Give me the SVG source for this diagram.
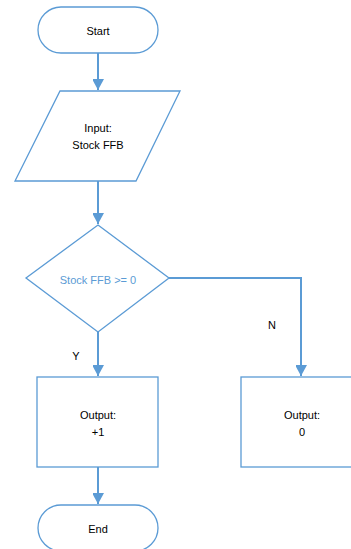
<svg xmlns="http://www.w3.org/2000/svg" width="351" height="549" viewBox="0 0 351 549">
  <style>
    .shape { fill: #ffffff; stroke: #5B9BD5; stroke-width: 1.3; }
    .conn { fill: none; stroke: #5B9BD5; stroke-width: 2; }
    .label { font-family: "Liberation Sans", Arial, sans-serif; font-size: 11px; fill: #000000; text-anchor: middle; dominant-baseline: central; }
    .blue { fill: #5B9BD5; }
  </style>
  <defs>
    <marker id="arrow" markerUnits="userSpaceOnUse" markerWidth="12" markerHeight="11" refX="11" refY="6" orient="auto">
      <path d="M0,0 L11,6 L0,12 Z" fill="#5B9BD5"/>
    </marker>
  </defs>
  <rect width="351" height="549" fill="#ffffff"/>

  <!-- connectors -->
  <g id="connectors">
    <line class="conn" x1="98" y1="53" x2="98" y2="90" marker-end="url(#arrow)"/>
    <line class="conn" x1="98" y1="181" x2="98" y2="224" marker-end="url(#arrow)"/>
    <line class="conn" x1="98" y1="332" x2="98" y2="376" marker-end="url(#arrow)"/>
    <polyline class="conn" points="169,278 301,278 301,376" marker-end="url(#arrow)"/>
    <line class="conn" x1="98" y1="467" x2="98" y2="504" marker-end="url(#arrow)"/>
    <text class="label" x="76" y="356">Y</text>
    <text class="label" x="272" y="325">N</text>
  </g>

  <g id="start">
    <rect class="shape" x="38" y="7" width="120" height="46" rx="23" ry="23"/>
    <text class="label" x="98" y="31">Start</text>
  </g>

  <g id="input">
    <polygon class="shape" points="60,91 180,91 136,181 15,181"/>
    <text class="label" x="98" y="128">Input:</text>
    <text class="label" x="98" y="145">Stock FFB</text>
  </g>

  <g id="decision">
    <polygon class="shape" points="98,225 169,278 98,332 26,278"/>
    <text class="label blue" x="98" y="280">Stock FFB &gt;= 0</text>
  </g>

  <g id="output-yes">
    <rect class="shape" x="37" y="377" width="121" height="90"/>
    <text class="label" x="98" y="415">Output:</text>
    <text class="label" x="98" y="432">+1</text>
  </g>

  <g id="output-no">
    <rect class="shape" x="241" y="377" width="121" height="90"/>
    <text class="label" x="302" y="415">Output:</text>
    <text class="label" x="302" y="432">0</text>
  </g>

  <g id="end">
    <rect class="shape" x="38" y="505" width="120" height="46" rx="23" ry="23"/>
    <text class="label" x="98" y="529">End</text>
  </g>
</svg>
